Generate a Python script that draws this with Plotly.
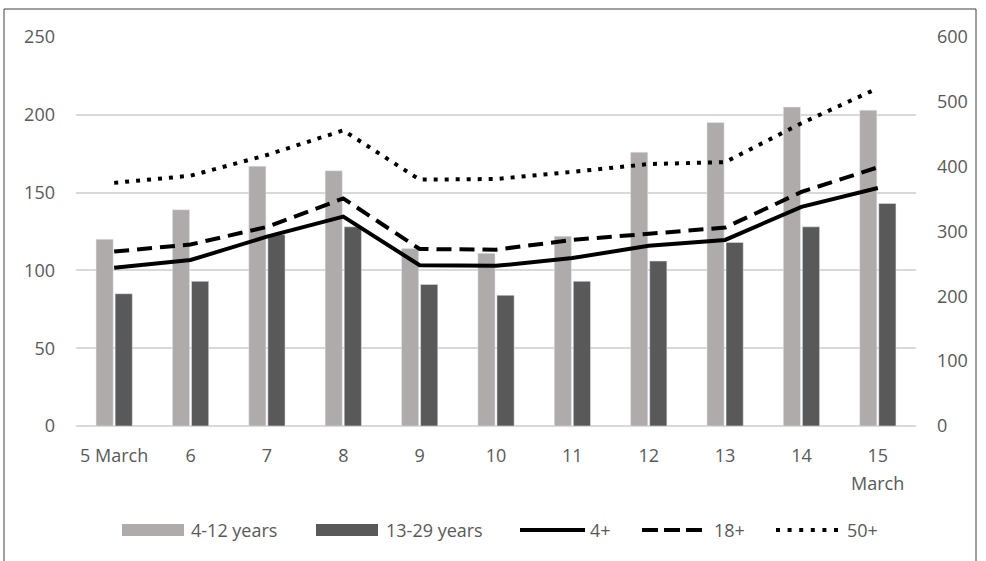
import plotly.graph_objects as go

categories = ["5 March", "6", "7", "8", "9", "10", "11", "12", "13", "14", "15"]
last_label_second_line = "March"
ages_4_12 = [120, 139, 167, 164, 114, 111, 122, 176, 195, 205, 203]
ages_13_29 = [85, 93, 123, 128, 91, 84, 93, 106, 118, 128, 143]
plus_4 = [244, 256, 292, 323, 248, 247, 259, 278, 287, 338, 367]
plus_18 = [269, 280, 307, 351, 273, 272, 287, 297, 306, 361, 399]
plus_50 = [375, 386, 418, 456, 380, 381, 392, 404, 407, 467, 521]

W, H = 986, 561
L, R, T, B = 76, 70, 37, 135
PW, PH = W - L - R, H - T - B

def px(x):
    return (x - L) / PW

def py(y):
    return (H - B - y) / PH

TXT = "#595959"
LIGHT = "#AFABAB"
DARK = "#595959"
FONT = "Open Sans"

fig = go.Figure()
x = list(range(len(categories)))
fig.add_bar(x=x, y=ages_4_12, name="4-12 years", marker_color=LIGHT, showlegend=False)
fig.add_bar(x=x, y=ages_13_29, name="13-29 years", marker_color=DARK, showlegend=False)
fig.add_scatter(x=x, y=plus_4, name="4+", yaxis="y2", mode="lines",
                line=dict(color="black", width=4), showlegend=False)
fig.add_scatter(x=x, y=plus_18, name="18+", yaxis="y2", mode="lines",
                line=dict(color="black", width=4, dash="15px,8px"), showlegend=False)
fig.add_scatter(x=x, y=plus_50, name="50+", yaxis="y2", mode="lines",
                line=dict(color="black", width=4, dash="4px,7px"), showlegend=False)

shapes = [
    # outer frame
    dict(type="rect", xref="paper", yref="paper", x0=px(4), x1=px(976), y0=py(570), y1=py(9),
         line=dict(color="#404040", width=1), fillcolor="rgba(0,0,0,0)", layer="below"),
    # legend swatches
    dict(type="rect", xref="paper", yref="paper", x0=px(122), x1=px(184), y0=py(536), y1=py(524),
         line=dict(width=0), fillcolor=LIGHT),
    dict(type="rect", xref="paper", yref="paper", x0=px(316), x1=px(378), y0=py(536), y1=py(524),
         line=dict(width=0), fillcolor=DARK),
    dict(type="line", xref="paper", yref="paper", x0=px(520), x1=px(585), y0=py(530), y1=py(530),
         line=dict(color="black", width=4)),
    dict(type="line", xref="paper", yref="paper", x0=px(642), x1=px(702), y0=py(530), y1=py(530),
         line=dict(color="black", width=4, dash="16px,6px")),
    dict(type="line", xref="paper", yref="paper", x0=px(776), x1=px(838), y0=py(530), y1=py(530),
         line=dict(color="black", width=4, dash="4px,7.6px")),
]

legend_texts = [("4-12 years", 189), ("13-29 years", 384), ("4+", 588), ("18+", 712), ("50+", 845)]
annotations = [
    dict(text=t, xref="paper", yref="paper", x=px(xx), y=py(530), xanchor="left", yanchor="middle",
         showarrow=False, font=dict(family=FONT, size=18, color=TXT))
    for t, xx in legend_texts
]
annotations.append(dict(text=last_label_second_line, xref="x", yref="paper", x=x[-1], y=py(483),
                        xanchor="center", yanchor="middle", showarrow=False,
                        font=dict(family=FONT, size=18, color=TXT)))

fig.update_layout(
    width=W, height=H, autosize=False,
    margin=dict(l=L, r=R, t=T, b=B),
    paper_bgcolor="white", plot_bgcolor="white",
    barmode="group", bargap=0.5, bargroupgap=0.1,
    font=dict(family=FONT, size=18, color=TXT),
    shapes=shapes, annotations=annotations,
    xaxis=dict(tickmode="array", tickvals=x, ticktext=categories, range=[-0.5, len(x) - 0.5],
               showgrid=False, showline=False, zeroline=False, ticks="", ticklabelstandoff=17,
               tickfont=dict(family=FONT, size=18, color=TXT)),
    yaxis=dict(range=[0, 250], dtick=50, showgrid=True, gridcolor="#D9D9D9", gridwidth=1.5,
               zeroline=True, zerolinecolor="#D9D9D9", zerolinewidth=1.5, showline=False,
               ticks="", ticklabelstandoff=20, tickfont=dict(family=FONT, size=18, color=TXT)),
    yaxis2=dict(range=[0, 600], dtick=100, overlaying="y", side="right", showgrid=False,
                zeroline=False, showline=False, ticks="", ticklabelstandoff=20,
                tickfont=dict(family=FONT, size=18, color=TXT)),
)

fig.write_html("out.html")
